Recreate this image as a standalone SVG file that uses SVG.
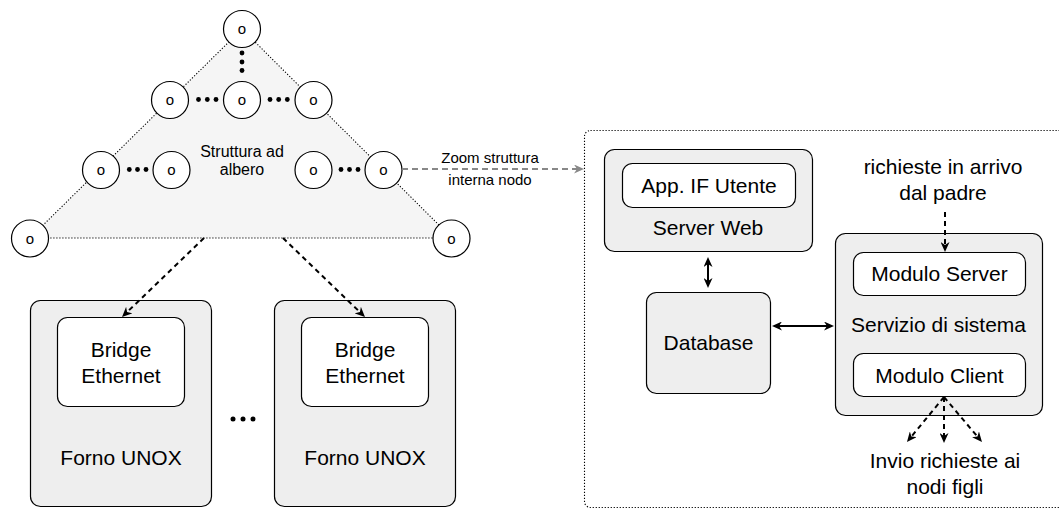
<svg xmlns="http://www.w3.org/2000/svg" width="1059" height="508" viewBox="0 0 1059 508">
  <style>
    text { font-family: "Liberation Sans", Arial, Helvetica, sans-serif; fill: #000; text-anchor: middle; }
    .big { font-size: 21px; }
    .mid { font-size: 16px; }
    .small { font-size: 15px; }
    .tree { fill: #f5f5f5; stroke: #000; stroke-width: 1.1; stroke-dasharray: 1.2 1.8; }
    .node { fill: #fff; stroke: #000; stroke-width: 1.2; }
    .dot { fill: #000; }
    .outer { fill: #eeeeee; stroke: #000; stroke-width: 1.2; }
    .inner { fill: #fff; stroke: #000; stroke-width: 1.2; }
    .frame { fill: none; stroke: #000; stroke-width: 1.1; stroke-dasharray: 1.2 1.8; }
    .solid { fill: none; stroke: #000; stroke-width: 2; }
    .dash { fill: none; stroke: #000; stroke-width: 2; stroke-dasharray: 5 4; }
    .gray { fill: none; stroke: #888; stroke-width: 2; stroke-dasharray: 6 4; }
  </style>
  <defs>
    <marker id="arrow" viewBox="0 0 10 9" refX="6" refY="4.5" markerWidth="10" markerHeight="9" markerUnits="userSpaceOnUse" orient="auto-start-reverse">
      <path d="M0,0 L10,4.5 L0,9 L3,4.5 Z" fill="#000"/>
    </marker>
    <marker id="arrow-gray" viewBox="0 0 10 9" refX="6" refY="4.5" markerWidth="10" markerHeight="9" markerUnits="userSpaceOnUse" orient="auto">
      <path d="M0,0 L10,4.5 L0,9 L3,4.5 Z" fill="#888"/>
    </marker>
  </defs>

  <!-- tree of nodes -->
  <g id="tree">
    <polygon class="tree" points="242,29 30,238 452,238"/>
    <text class="mid" x="242" y="157">Struttura ad</text>
    <text class="mid" x="242" y="175">albero</text>
    <!-- ellipsis dots between nodes -->
    <circle class="dot" cx="242" cy="53" r="2.4"/>
    <circle class="dot" cx="242" cy="62" r="2.4"/>
    <circle class="dot" cx="242" cy="70.5" r="2.4"/>
    <circle class="dot" cx="198.5" cy="99.5" r="2.4"/>
    <circle class="dot" cx="207.3" cy="99.5" r="2.4"/>
    <circle class="dot" cx="216" cy="99.5" r="2.4"/>
    <circle class="dot" cx="270" cy="99.5" r="2.4"/>
    <circle class="dot" cx="278.7" cy="99.5" r="2.4"/>
    <circle class="dot" cx="287.3" cy="99.5" r="2.4"/>
    <circle class="dot" cx="129.3" cy="169.5" r="2.4"/>
    <circle class="dot" cx="137.5" cy="169.5" r="2.4"/>
    <circle class="dot" cx="146" cy="169.5" r="2.4"/>
    <circle class="dot" cx="341" cy="169.5" r="2.4"/>
    <circle class="dot" cx="349.5" cy="169.5" r="2.4"/>
    <circle class="dot" cx="358" cy="169.5" r="2.4"/>
  </g>
  <g id="n-root"><circle class="node" cx="242" cy="29" r="18.5"/><text class="small" x="242" y="34">o</text></g>
  <g id="n-2a"><circle class="node" cx="170" cy="100" r="18.5"/><text class="small" x="170" y="105">o</text></g>
  <g id="n-2b"><circle class="node" cx="242" cy="100" r="18.5"/><text class="small" x="242" y="105">o</text></g>
  <g id="n-2c"><circle class="node" cx="313.5" cy="100" r="18.5"/><text class="small" x="313.5" y="105">o</text></g>
  <g id="n-3a"><circle class="node" cx="101" cy="170" r="18.5"/><text class="small" x="101" y="175">o</text></g>
  <g id="n-3b"><circle class="node" cx="171.5" cy="170" r="18.5"/><text class="small" x="171.5" y="175">o</text></g>
  <g id="n-3c"><circle class="node" cx="313.5" cy="170" r="18.5"/><text class="small" x="313.5" y="175">o</text></g>
  <g id="n-3d"><circle class="node" cx="383.5" cy="170" r="18.5"/><text class="small" x="383.5" y="175">o</text></g>
  <g id="n-4a"><circle class="node" cx="30" cy="238.5" r="18.5"/><text class="small" x="30" y="243.5">o</text></g>
  <g id="n-4b"><circle class="node" cx="451.5" cy="238.5" r="18.5"/><text class="small" x="451.5" y="243.5">o</text></g>

  <!-- ovens -->
  <g id="forno-1">
    <rect class="outer" x="30.5" y="300.5" width="181" height="206" rx="10"/>
    <rect class="inner" x="57.5" y="317.5" width="127" height="89" rx="10"/>
    <text class="big" x="121" y="357">Bridge</text>
    <text class="big" x="121" y="383">Ethernet</text>
    <text class="big" x="121" y="465">Forno UNOX</text>
  </g>
  <g id="ellipsis">
    <circle class="dot" cx="233" cy="419" r="2.5"/>
    <circle class="dot" cx="243" cy="419" r="2.5"/>
    <circle class="dot" cx="253" cy="419" r="2.5"/>
  </g>
  <g id="forno-2">
    <rect class="outer" x="274.5" y="300.5" width="181" height="206" rx="10"/>
    <rect class="inner" x="301.5" y="317.5" width="127" height="89" rx="10"/>
    <text class="big" x="365" y="357">Bridge</text>
    <text class="big" x="365" y="383">Ethernet</text>
    <text class="big" x="365" y="465">Forno UNOX</text>
  </g>

  <!-- internal structure of a node -->
  <g id="node-detail">
    <rect class="frame" x="584.5" y="130.5" width="482" height="377" rx="6"/>
  </g>
  <g id="server-web">
    <rect class="outer" x="604.5" y="149.5" width="208" height="102" rx="10"/>
    <rect class="inner" x="622.5" y="163.5" width="173" height="44" rx="10"/>
    <text class="big" x="709" y="193">App. IF Utente</text>
    <text class="big" x="708" y="235">Server Web</text>
  </g>
  <g id="database">
    <rect class="outer" x="646.5" y="292.5" width="124" height="101" rx="10"/>
    <text class="big" x="708.5" y="350">Database</text>
  </g>
  <g id="servizio">
    <rect class="outer" x="835.5" y="233.5" width="207" height="182" rx="10"/>
    <rect class="inner" x="853.5" y="252.5" width="172" height="43" rx="10"/>
    <text class="big" x="939.5" y="281">Modulo Server</text>
    <text class="big" x="938.5" y="332">Servizio di sistema</text>
    <rect class="inner" x="853.5" y="353.5" width="172" height="43" rx="10"/>
    <text class="big" x="939.5" y="383">Modulo Client</text>
  </g>
  <g id="label-in">
    <text class="big" x="943" y="174">richieste in arrivo</text>
    <text class="big" x="943" y="200">dal padre</text>
  </g>
  <g id="label-out">
    <text class="big" x="945" y="468">Invio richieste ai</text>
    <text class="big" x="945" y="494">nodi figli</text>
  </g>

  <!-- connectors -->
  <g id="connectors">
    <line class="dash" x1="204" y1="238" x2="124.9" y2="314.2" marker-end="url(#arrow)"/>
    <line class="dash" x1="283" y1="238" x2="362.1" y2="314.2" marker-end="url(#arrow)"/>
    <line class="gray" x1="402" y1="169" x2="580" y2="169" marker-end="url(#arrow-gray)"/>
    <text class="small" x="490" y="163">Zoom struttura</text>
    <text class="small" x="490" y="185">interna nodo</text>
    <line class="solid" x1="708" y1="261" x2="708" y2="284" marker-start="url(#arrow)" marker-end="url(#arrow)"/>
    <line class="solid" x1="776" y1="326" x2="830" y2="326" marker-start="url(#arrow)" marker-end="url(#arrow)"/>
    <line class="dash" x1="945" y1="212" x2="945" y2="248" marker-end="url(#arrow)"/>
    <line class="dash" x1="944" y1="397" x2="909.5" y2="438.9" marker-end="url(#arrow)"/>
    <line class="dash" x1="944" y1="397" x2="944" y2="439" marker-end="url(#arrow)"/>
    <line class="dash" x1="944" y1="397" x2="979.4" y2="438.9" marker-end="url(#arrow)"/>
  </g>
</svg>
